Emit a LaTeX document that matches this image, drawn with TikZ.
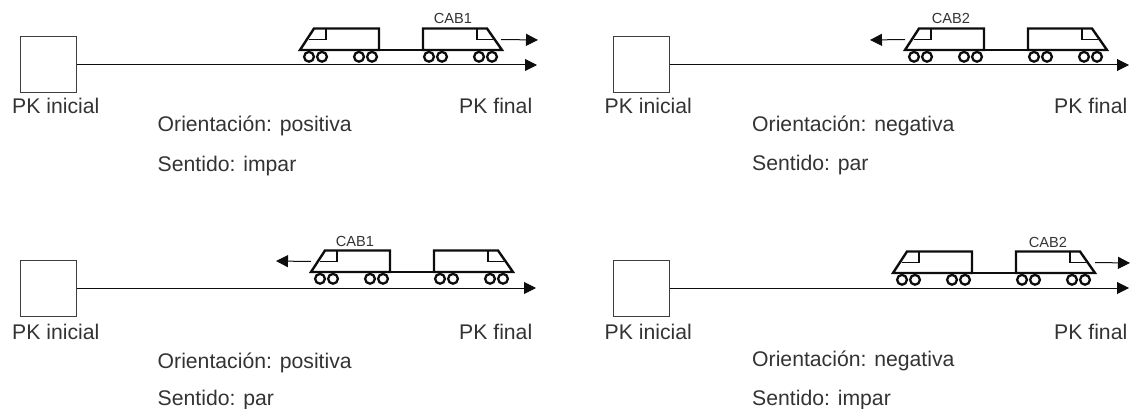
\documentclass[tikz,border=0pt]{standalone}
\usepackage{fontspec}
\setmainfont{Liberation Sans}
\usetikzlibrary{arrows.meta}
\definecolor{txt}{gray}{0.2}
\definecolor{ink}{gray}{0.05}
\tikzset{
  x=1pt,y=-1pt,
  trainbold/.style={draw=ink,line width=2.4pt,line join=miter},
  trainthin/.style={draw=ink,line width=1.2pt},
  wheel/.style={draw=ink,line width=2.3pt,fill=white},
  track/.style={draw=ink,line width=1pt,-{Triangle[length=12pt,width=12pt]}},
  startbox/.style={draw=ink!80,line width=1pt,minimum size=56pt,inner sep=0pt,fill=white},
  lbl/.style={inner sep=0pt,anchor=base west,text=txt,font=\fontsize{21.2}{24}\selectfont},
  cab/.style={inner sep=0pt,anchor=base,text=txt,font=\fontsize{14.6}{16}\selectfont},
  train/.pic={
    \coordinate (-left) at (0,-10.5);
    \coordinate (-right) at (202,-10.5);
    \draw[trainthin] (79,0) -- (123,0);
    \draw[trainthin] (26,-21.5) -- (26,-10.5) -- (9,-10.5);
    \draw[trainthin] (177,-21.5) -- (177,-10.5) -- (193,-10.5);
    \draw[trainbold] (0,0) -- (14,-21.5) -- (79,-21.5) -- (79,0) -- cycle;
    \draw[trainbold] (202,0) -- (187,-21.5) -- (123,-21.5) -- (123,0) -- cycle;
    \foreach \wx in {9,22,59,72,129,142,179,192}
      \draw[wheel] (\wx,6.8) circle (4.9);
  }
}
\begin{document}
\begin{tikzpicture}
\useasboundingbox (0,0) rectangle (1130,409);
% panel 1
\node[startbox] (b1) at (48.5,64.5) {};
\coordinate (e1) at (537,65);
\draw[track] (b1.east |- e1) -- (e1);
\pic (t1) at (300,50) {train};
\coordinate (a1) at (538,40);
\draw[track] (t1-right) ++(-1,0) -- (a1);
\node[cab] (c1) at (453,23.5) {CAB1};
\node[lbl] (i1) at (12,114) {PK inicial};
\node[lbl] (f1) at (459,114) {PK final};
\node[lbl] (o1) at (157.5,132) {Orientación: positiva};
\node[lbl] (s1) at (157.5,171.5) {Sentido: impar};
% panel 2
\node[startbox] (b2) at (641,64.5) {};
\coordinate (e2) at (1129,65);
\draw[track] (b2.east |- e2) -- (e2);
\pic (t2) at (905,50) {train};
\coordinate (a2) at (870,40);
\draw[track] (t2-left) -- (a2);
\node[cab] (c2) at (951,24) {CAB2};
\node[lbl] (i2) at (604.5,114) {PK inicial};
\node[lbl] (f2) at (1054,114) {PK final};
\node[lbl] (o2) at (752,132) {Orientación: negativa};
\node[lbl] (s2) at (752,171) {Sentido: par};
% panel 3
\node[startbox] (b3) at (48.5,288) {};
\coordinate (e3) at (536,288);
\draw[track] (b3.east |- e3) -- (e3);
\pic (t3) at (311,272) {train};
\coordinate (a3) at (276,261);
\draw[track] (t3-left) -- (a3);
\node[cab] (c3) at (355,246.5) {CAB1};
\node[lbl] (i3) at (12,339) {PK inicial};
\node[lbl] (f3) at (459,339) {PK final};
\node[lbl] (o3) at (157.5,368) {Orientación: positiva};
\node[lbl] (s3) at (157.5,405) {Sentido: par};
% panel 4
\node[startbox] (b4) at (641,288) {};
\coordinate (e4) at (1129,288);
\draw[track] (b4.east |- e4) -- (e4);
\pic (t4) at (893,273) {train};
\coordinate (a4) at (1130,263);
\draw[track] (t4-right) -- (a4);
\node[cab] (c4) at (1048,247.5) {CAB2};
\node[lbl] (i4) at (604.5,339) {PK inicial};
\node[lbl] (f4) at (1054,339) {PK final};
\node[lbl] (o4) at (752,366) {Orientación: negativa};
\node[lbl] (s4) at (752,405) {Sentido: impar};
\end{tikzpicture}
\end{document}
